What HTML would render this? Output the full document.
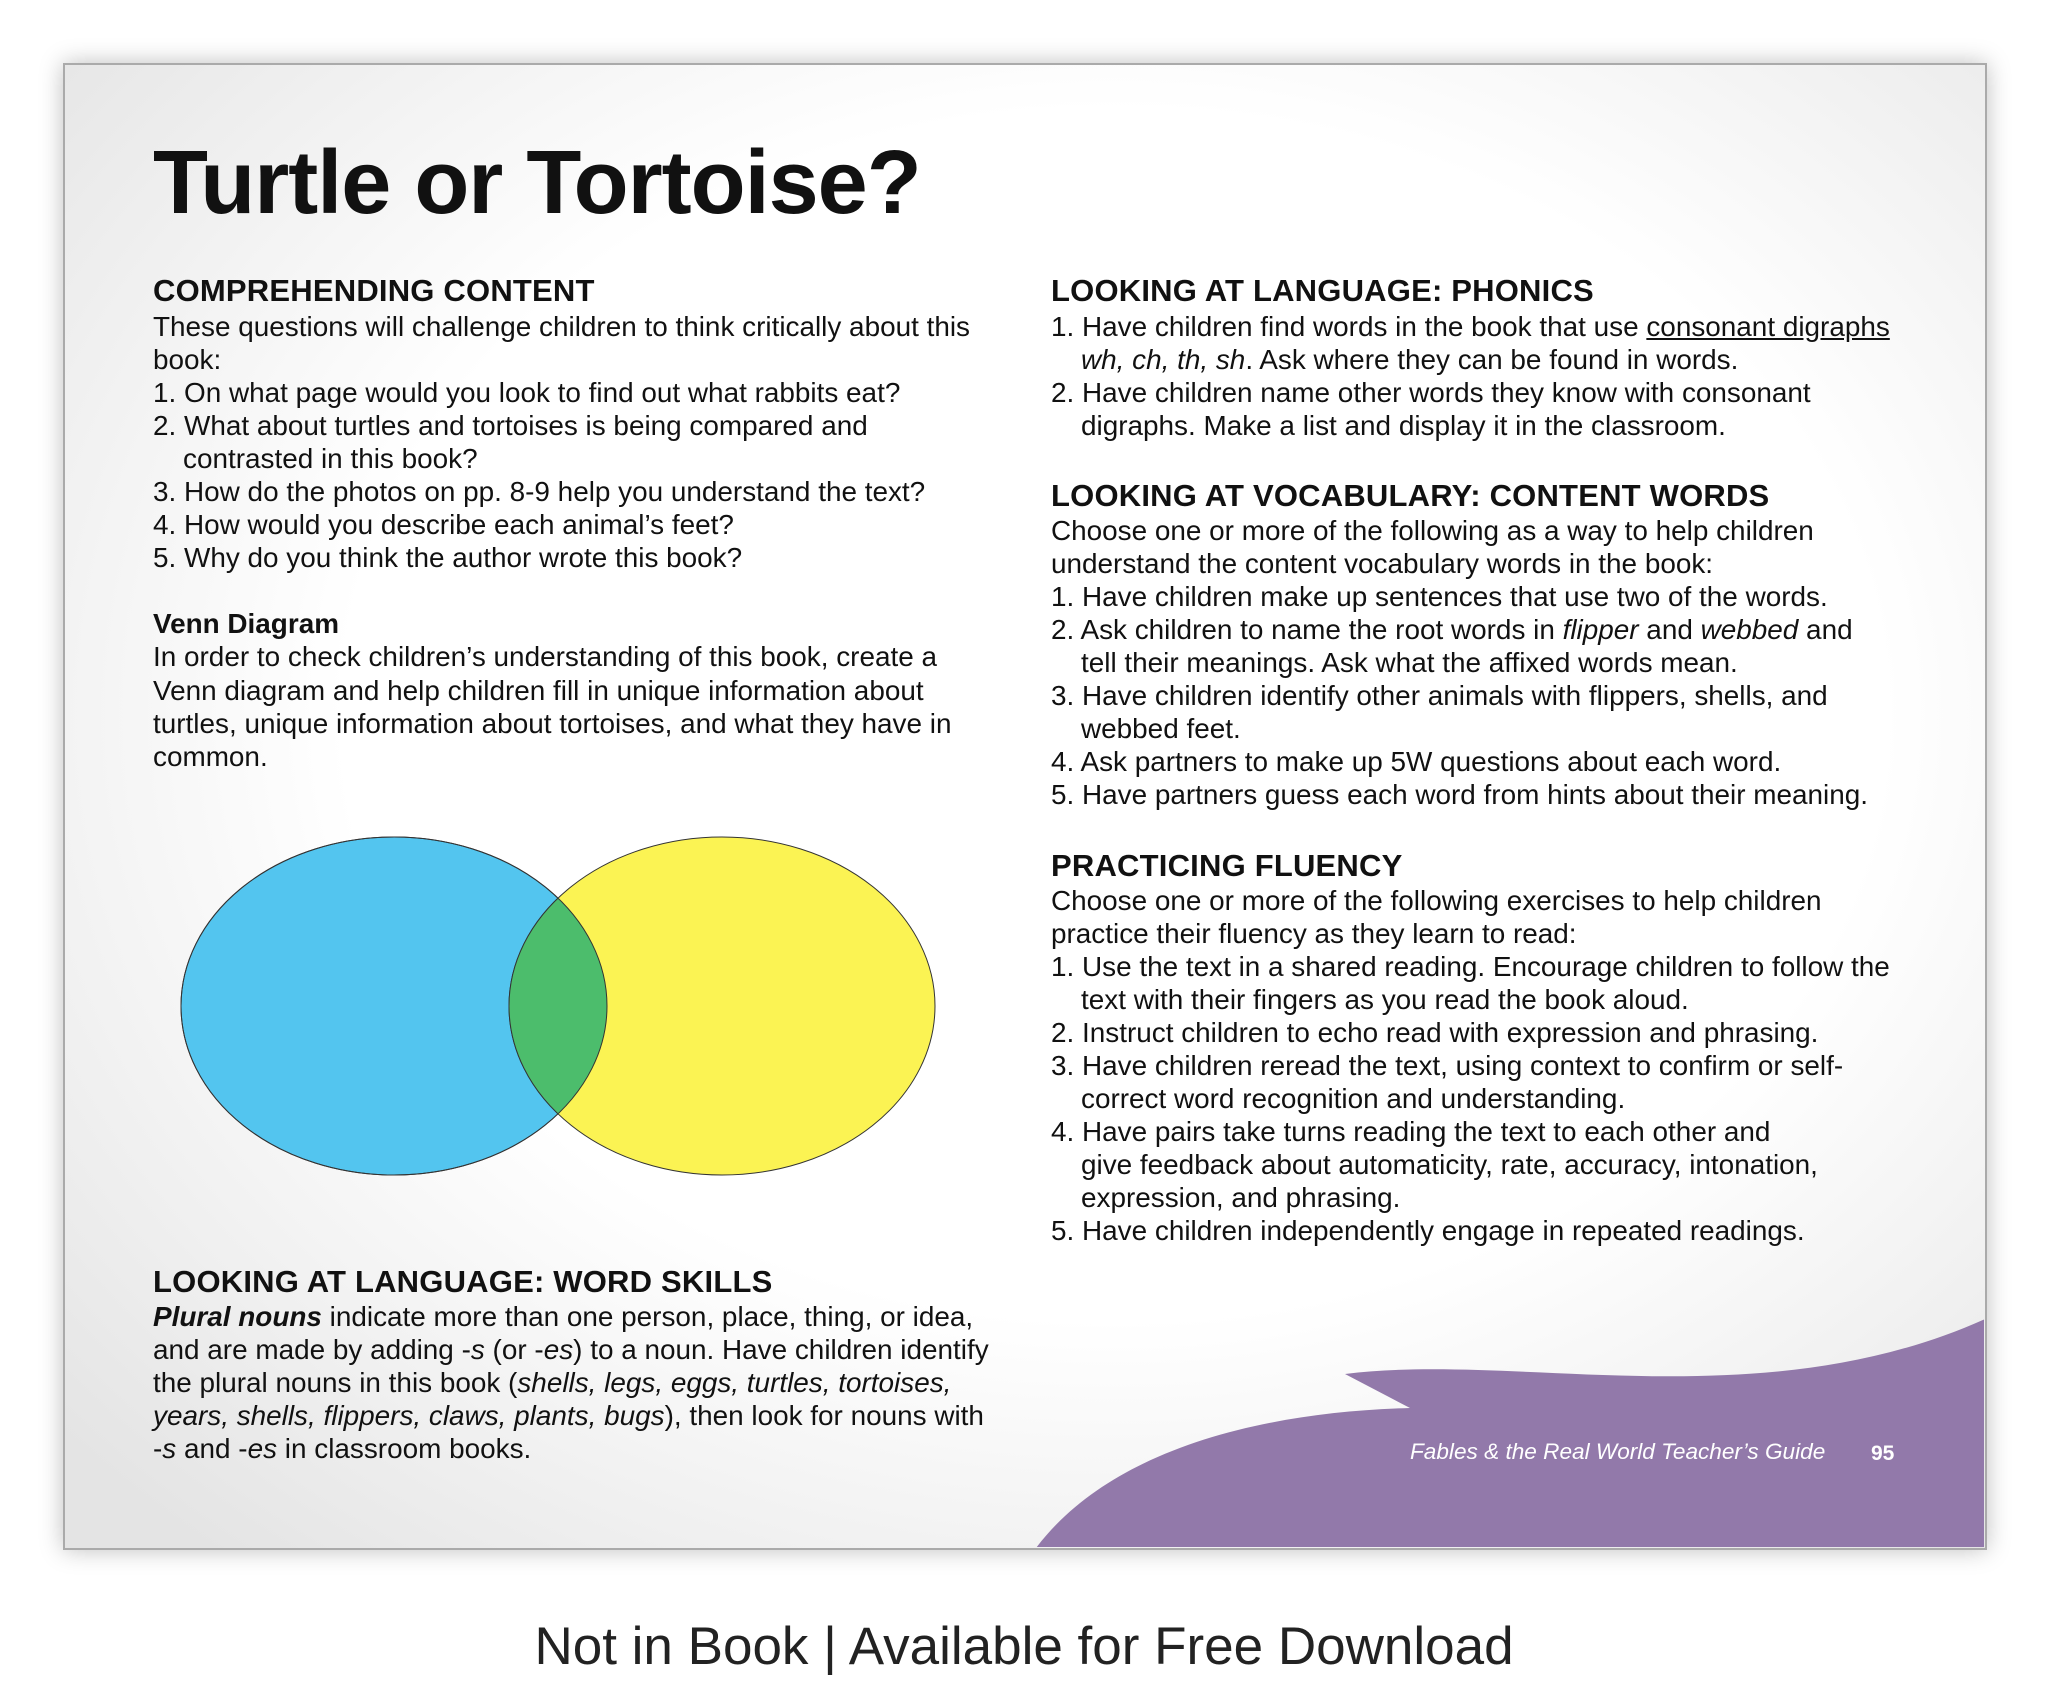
<!DOCTYPE html>
<html><head><meta charset="utf-8"><style>
html,body{margin:0;padding:0;}
body{width:2048px;height:1706px;position:relative;background:#fff;font-family:"Liberation Sans",sans-serif;color:#111;overflow:hidden;}
.card{position:absolute;left:63px;top:63px;width:1920px;height:1483px;border:2px solid #aaa;background:radial-gradient(ellipse 1400px 1100px at 1050px 650px,#fff 55%,#e4e4e4 100%);box-shadow:0 0 22px rgba(0,0,0,.25);overflow:hidden;}
.t{position:absolute;white-space:nowrap;}
.title{left:153px;top:133px;font-size:90px;font-weight:bold;letter-spacing:-1px;line-height:100px;}
.h{font-size:31px;font-weight:bold;line-height:33px;letter-spacing:0.2px;}
.b{font-size:27.9px;line-height:33.05px;}
.i{padding-left:30px;}
.foot{position:absolute;left:0;width:2048px;top:1616px;text-align:center;font-size:53px;color:#222;}
</style></head><body>
<div class="card"></div>
<svg style="position:absolute;left:0;top:0" width="2048" height="1706">
<defs><clipPath id="c"><rect x="64" y="64" width="1920" height="1483"/></clipPath></defs>
<g clip-path="url(#c)">
<path d="M1036 1548 C1110 1450 1260 1412 1410 1408 L1345 1374 C1520 1352 1760 1420 1985 1319 L1985 1548 Z" fill="#9279aa"/>
</g>
<ellipse cx="394" cy="1006" rx="213" ry="169" fill="#53c5ef" stroke="#333" stroke-width="1"/>
<ellipse cx="722" cy="1006" rx="213" ry="169" fill="#fbf353" stroke="#333" stroke-width="1"/>
<clipPath id="o"><ellipse cx="394" cy="1006" rx="213" ry="169"/></clipPath>
<ellipse cx="722" cy="1006" rx="213" ry="169" fill="#4cbd6c" stroke="#333" stroke-width="1" clip-path="url(#o)"/>
<ellipse cx="394" cy="1006" rx="213" ry="169" fill="none" stroke="#333" stroke-width="1"/>
<text x="1410" y="1459" font-family="Liberation Sans, sans-serif" font-style="italic" font-size="22.6" fill="#fff">Fables &amp; the Real World Teacher’s Guide</text>
<text x="1871" y="1460" font-family="Liberation Sans, sans-serif" font-weight="bold" font-size="21" fill="#fff">95</text>
</svg>

<div class="t title">Turtle or Tortoise?</div>

<div class="t h" style="left:153px;top:274px">COMPREHENDING CONTENT</div>
<div class="t b" style="left:153px;top:310px">
<div>These questions will challenge children to think critically about this</div>
<div>book:</div>
<div>1. On what page would you look to find out what rabbits eat?</div>
<div>2. What about turtles and tortoises is being compared and</div>
<div class="i">contrasted in this book?</div>
<div>3. How do the photos on pp. 8-9 help you understand the text?</div>
<div>4. How would you describe each animal’s feet?</div>
<div>5. Why do you think the author wrote this book?</div>
<div>&nbsp;</div>
<div><b>Venn Diagram</b></div>
<div>In order to check children’s understanding of this book, create a</div>
<div>Venn diagram and help children fill in unique information about</div>
<div>turtles, unique information about tortoises, and what they have in</div>
<div>common.</div>
</div>

<div class="t h" style="left:153px;top:1265px">LOOKING AT LANGUAGE: WORD SKILLS</div>
<div class="t b" style="left:153px;top:1300px">
<div><b><i>Plural nouns</i></b> indicate more than one person, place, thing, or idea,</div>
<div>and are made by adding -<i>s</i> (or -<i>es</i>) to a noun. Have children identify</div>
<div>the plural nouns in this book (<i>shells, legs, eggs, turtles, tortoises,</i></div>
<div><i>years, shells, flippers, claws, plants, bugs</i>), then look for nouns with</div>
<div>-<i>s</i> and -<i>es</i> in classroom books.</div>
</div>

<div class="t h" style="left:1051px;top:274px">LOOKING AT LANGUAGE: PHONICS</div>
<div class="t b" style="left:1051px;top:310px">
<div>1. Have children find words in the book that use <u>consonant digraphs</u></div>
<div class="i"><i>wh, ch, th, sh</i>. Ask where they can be found in words.</div>
<div>2. Have children name other words they know with consonant</div>
<div class="i">digraphs. Make a list and display it in the classroom.</div>
</div>

<div class="t h" style="left:1051px;top:479px">LOOKING AT VOCABULARY: CONTENT WORDS</div>
<div class="t b" style="left:1051px;top:514px">
<div>Choose one or more of the following as a way to help children</div>
<div>understand the content vocabulary words in the book:</div>
<div>1. Have children make up sentences that use two of the words.</div>
<div>2. Ask children to name the root words in <i>flipper</i> and <i>webbed</i> and</div>
<div class="i">tell their meanings. Ask what the affixed words mean.</div>
<div>3. Have children identify other animals with flippers, shells, and</div>
<div class="i">webbed feet.</div>
<div>4. Ask partners to make up 5W questions about each word.</div>
<div>5. Have partners guess each word from hints about their meaning.</div>
</div>

<div class="t h" style="left:1051px;top:849px">PRACTICING FLUENCY</div>
<div class="t b" style="left:1051px;top:884px">
<div>Choose one or more of the following exercises to help children</div>
<div>practice their fluency as they learn to read:</div>
<div>1. Use the text in a shared reading. Encourage children to follow the</div>
<div class="i">text with their fingers as you read the book aloud.</div>
<div>2. Instruct children to echo read with expression and phrasing.</div>
<div>3. Have children reread the text, using context to confirm or self-</div>
<div class="i">correct word recognition and understanding.</div>
<div>4. Have pairs take turns reading the text to each other and</div>
<div class="i">give feedback about automaticity, rate, accuracy, intonation,</div>
<div class="i">expression, and phrasing.</div>
<div>5. Have children independently engage in repeated readings.</div>
</div>

<div class="foot">Not in Book | Available for Free Download</div>
</body></html>
